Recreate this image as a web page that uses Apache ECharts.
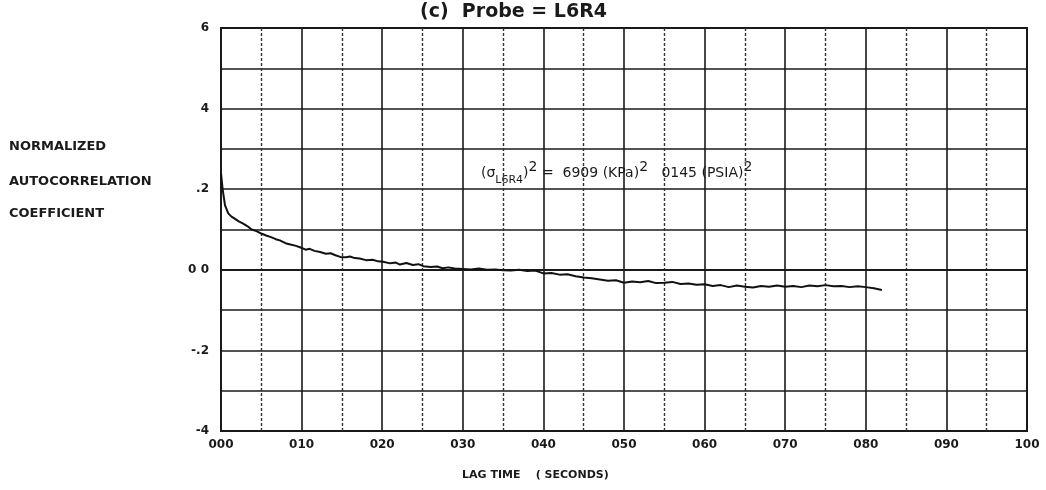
<!DOCTYPE html>
<html>
<head>
<meta charset="utf-8">
<script src="https://cdn.jsdelivr.net/npm/echarts@6/dist/echarts.min.js"></script>
<style>
  html, body { margin: 0; padding: 0; background: #fff; }
  #chart { width: 1046px; height: 490px; }
</style>
</head>
<body>
<div id="chart"></div>
<script>
// lag time (seconds) and normalized autocorrelation
const lagTime = [
  0, 0.0002, 0.0005, 0.0009, 0.0013, 0.0017, 0.0022, 0.0027, 0.0033, 0.0038,
  0.0044, 0.005, 0.0056, 0.0062, 0.0068, 0.0073, 0.008, 0.0086, 0.0092, 0.0098,
  0.0105, 0.011, 0.0116, 0.0123, 0.013, 0.0136, 0.0142, 0.0148, 0.0155, 0.016,
  0.0166, 0.0172, 0.018, 0.0188, 0.0195, 0.0201, 0.021, 0.0217, 0.0222, 0.023,
  0.0238, 0.0245, 0.0251, 0.026, 0.0268, 0.0275, 0.0282, 0.029, 0.030, 0.031,
  0.032, 0.033, 0.034, 0.035, 0.036, 0.037, 0.038, 0.039, 0.040, 0.041,
  0.042, 0.043, 0.044, 0.045, 0.046, 0.047, 0.048, 0.049, 0.050, 0.051,
  0.052, 0.053, 0.054, 0.055, 0.056, 0.057, 0.058, 0.059, 0.060, 0.061,
  0.062, 0.063, 0.064, 0.065, 0.066, 0.067, 0.068, 0.069, 0.070, 0.071,
  0.072, 0.073, 0.074, 0.075, 0.076, 0.077, 0.078, 0.079, 0.080, 0.081, 0.082
];
const autoCorr = [
  0.24, 0.20, 0.16, 0.14, 0.132, 0.127, 0.12, 0.115, 0.108, 0.100,
  0.096, 0.090, 0.085, 0.081, 0.076, 0.073, 0.066, 0.063, 0.060, 0.056,
  0.050, 0.052, 0.047, 0.044, 0.040, 0.041, 0.036, 0.032, 0.031, 0.033,
  0.029, 0.028, 0.024, 0.025, 0.021, 0.020, 0.016, 0.018, 0.013, 0.017,
  0.012, 0.014, 0.009, 0.007, 0.008, 0.004, 0.006, 0.003, 0.002, 0.001,
  0.003, 0.000, 0.001, -0.001, -0.002, 0.000, -0.003, -0.002, -0.009, -0.008,
  -0.012, -0.011, -0.016, -0.019, -0.021, -0.024, -0.027, -0.026, -0.032, -0.029,
  -0.031, -0.028, -0.033, -0.032, -0.030, -0.035, -0.034, -0.037, -0.036, -0.040,
  -0.038, -0.043, -0.039, -0.042, -0.044, -0.040, -0.042, -0.039, -0.042, -0.040,
  -0.043, -0.039, -0.041, -0.038, -0.041, -0.040, -0.043, -0.041, -0.043, -0.046, -0.050
];

const xTickValues = [0, 0.01, 0.02, 0.03, 0.04, 0.05, 0.06, 0.07, 0.08, 0.09, 0.1];
const xTickLabels = ["000", "010", "020", "030", "040", "050", "060", "070", "080", "090", "100"];
const yTickValues = [-0.4, -0.2, 0, 0.2, 0.4, 0.6];
const yTickLabels = ["-4", "-.2", "0 0", ".2", "4", "6"];

const ink = "#1a1a1a";
const font = "DejaVu Sans";

function tickLabel(values, labels, v) {
  for (let i = 0; i < values.length; i++) {
    if (Math.abs(values[i] - v) < 1e-6) return labels[i];
  }
  return "";
}

let chart = echarts.init(document.getElementById("chart"), null, { renderer: "canvas" });

let points = lagTime.map((t, i) => [t, autoCorr[i]]);

let option = {
  backgroundColor: "#fff",
  animation: false,
  grid: {
    left: 221, right: 19, top: 28, bottom: 59,
    show: true, borderColor: ink, borderWidth: 2
  },
  xAxis: {
    type: "value",
    min: 0, max: 0.1, interval: 0.01,
    axisLine: { show: true, lineStyle: { color: ink, width: 2 } },
    axisTick: { show: false },
    axisLabel: {
      color: ink, fontFamily: font, fontWeight: "bold", fontSize: 12, margin: 8,
      formatter: (v) => tickLabel(xTickValues, xTickLabels, v)
    },
    splitLine: { show: true, lineStyle: { color: ink, width: 1.6 } },
    minorTick: { show: false, splitNumber: 2 },
    minorSplitLine: { show: true, lineStyle: { color: "#333", width: 1.4, type: [3, 2] } }
  },
  yAxis: {
    type: "value",
    min: -0.4, max: 0.6, interval: 0.1,
    axisLine: { show: true, lineStyle: { color: ink, width: 2 } },
    axisTick: { show: false },
    axisLabel: {
      color: ink, fontFamily: font, fontWeight: "bold", fontSize: 12, margin: 12,
      formatter: (v) => tickLabel(yTickValues, yTickLabels, v)
    },
    splitLine: { show: true, lineStyle: { color: ink, width: 1.6 } }
  },
  series: [
    {
      type: "line",
      data: points,
      showSymbol: false,
      lineStyle: { color: "#111", width: 2 },
      z: 5
    }
  ],
  graphic: [
    {
      type: "text", left: 420, top: 3,
      style: { text: "(c)  Probe = L6R4", font: "bold 19px " + font, fill: ink }
    },
    {
      type: "text", left: 9, top: 140,
      style: { text: "NORMALIZED", font: "bold 13px " + font, fill: ink }
    },
    {
      type: "text", left: 9, top: 175,
      style: { text: "AUTOCORRELATION", font: "bold 13px " + font, fill: ink }
    },
    {
      type: "text", left: 9, top: 207,
      style: { text: "COEFFICIENT", font: "bold 13px " + font, fill: ink }
    },
    {
      type: "text", left: 462, top: 470,
      style: { text: "LAG TIME    ( SECONDS)", font: "bold 11px " + font, fill: ink }
    },
    {
      type: "text", left: 481, top: 160,
      style: {
        text: "{n|(σ}{sub|L6R4}{n|)}{sup|2}{n| =  6909 (KPa)}{sup|2}{n|   0145 (PSIA)}{sup|2}",
        rich: {
          n: { fontFamily: font, fontSize: 14, fill: ink, color: ink, lineHeight: 26, verticalAlign: "middle" },
          sub: { fontFamily: font, fontSize: 11, fill: ink, color: ink, lineHeight: 14, verticalAlign: "bottom" },
          sup: { fontFamily: font, fontSize: 14, fill: ink, color: ink, lineHeight: 16, verticalAlign: "top" }
        }
      }
    }
  ]
};

chart.setOption(option);
window.addEventListener("resize", chart.resize);
</script>
</body>
</html>
